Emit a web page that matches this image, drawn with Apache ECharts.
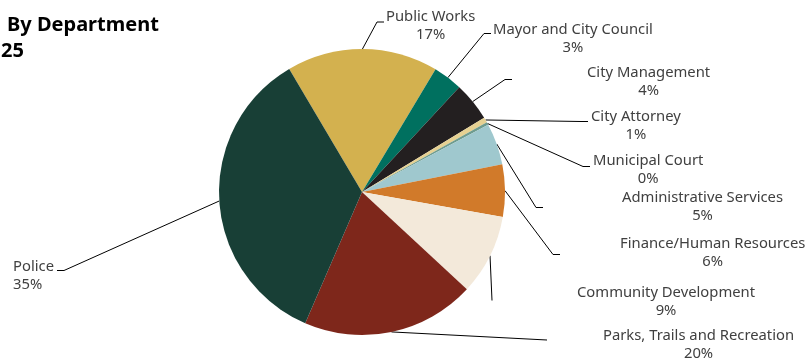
<!DOCTYPE html>
<html>
<head>
<meta charset="utf-8">
<script src="https://cdn.jsdelivr.net/npm/echarts@6/dist/echarts.min.js"></script>
<style>
  html, body { margin: 0; padding: 0; background: #fff; }
  #chart { width: 807px; height: 360px; }
</style>
</head>
<body>
<div id="chart"></div>
<script>
// Spending share by department, clockwise from Public Works
const departments = [
  'Public Works',
  'Mayor and City Council',
  'City Management',
  'City Attorney',
  'Municipal Court',
  'Administrative Services',
  'Finance/Human Resources',
  'Community Development',
  'Parks, Trails and Recreation',
  'Police'
];
const shares = [17.1, 3.3, 4.4, 0.6, 0.3, 4.7, 5.9, 9.1, 19.6, 35.0];
const sliceColors = [
  '#d3b14f', '#00705f', '#231f20', '#e6d192', '#6e9c8f',
  '#9fc8ce', '#d17a2a', '#f3e9da', '#7e271b', '#183f36'
];

// Label box placement: [left, top] and padding [top, right, bottom, left]
const labelBoxes = [
  [384, 0], [491, 10.5], [512, 59.5], [588, 99.5], [590, 145.5],
  [543, 188.5], [560, 234.5], [492, 281.5], [547, 317.5], [13, 247.5]
];
const labelPads = [
  [8, 0, 0, 2], [10, 0, 0, 2], [4, 0, 0, 75], [8, 0, 0, 3], [6, 0, 0, 3],
  [0, 0, 2, 79], [0, 0, 4, 60], [2, 0, 0, 85], [9, 0, 0, 56], [10, 3, 0, 0]
];
const stubLengths = [7, 7, 7, 7, 7, 7, 7, 0, 0, 7];

const chart = echarts.init(document.getElementById('chart'), null, { renderer: 'canvas' });

const labelFont = 'Noto Sans';
const labelSize = 14.8;
const data = departments.map((name, i) => {
  const item = {
    name: name,
    value: shares[i],
    itemStyle: { color: sliceColors[i] },
    label: { padding: labelPads[i] },
    labelLine: { length2: stubLengths[i] }
  };
  if (name === 'Police') {
    item.label.formatter = '{l|{b}}\n{l|{d}%}';
  }
  return item;
});

chart.setOption({
  animation: false,
  backgroundColor: '#ffffff',
  title: [
    {
      text: 'By Department',
      left: 2,
      top: 10,
      textStyle: { fontFamily: labelFont, fontWeight: 'bold', fontSize: 20, color: '#000' }
    },
    {
      text: '25',
      left: -4,
      top: 36,
      textStyle: { fontFamily: labelFont, fontWeight: 'bold', fontSize: 20, color: '#000' }
    }
  ],
  series: [
    {
      type: 'pie',
      center: [362, 192],
      radius: 143,
      startAngle: 120.6,
      clockwise: true,
      percentPrecision: 0,
      avoidLabelOverlap: false,
      itemStyle: { borderWidth: 0 },
      emphasis: { disabled: true },
      data: data,
      label: {
        show: true,
        position: 'outside',
        formatter: '{n|{b}}\n{n|{d}%}',
        color: '#404040',
        fontFamily: labelFont,
        fontSize: labelSize,
        // an invisible box so the padding counts toward where the leader line ends
        backgroundColor: 'rgba(255,255,255,0)',
        rich: {
          n: { align: 'center', lineHeight: 18, fontSize: labelSize, fontFamily: labelFont, color: '#404040' },
          l: { align: 'left', lineHeight: 18, fontSize: labelSize, fontFamily: labelFont, color: '#404040' }
        }
      },
      labelLine: {
        show: true,
        length: 10,
        length2: 7,
        minTurnAngle: 60,
        lineStyle: { color: '#000', width: 1 }
      },
      labelLayout: function (params) {
        const box = labelBoxes[params.dataIndex];
        return { x: box[0], y: box[1], align: 'left', verticalAlign: 'top' };
      }
    }
  ]
});
</script>
</body>
</html>
